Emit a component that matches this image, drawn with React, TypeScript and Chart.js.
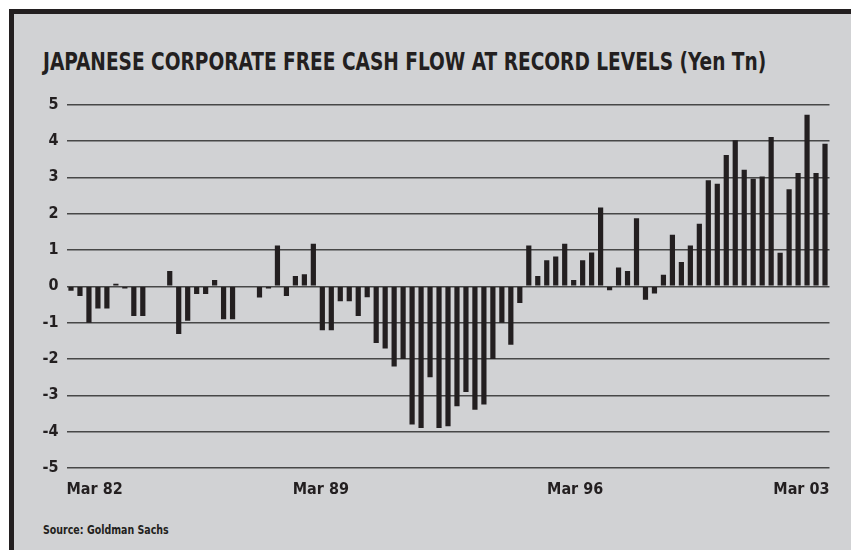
import React, { useEffect, useRef } from "react";
import { Chart, registerables } from "chart.js";

Chart.register(...registerables);

const START_YEAR = 1982;
const MONTHS = ["Mar", "Jun", "Sep", "Dec"];
const QUARTER_COUNT = 85;
const categories: string[] = [];
for (let i = 0; i < QUARTER_COUNT; i++) {
  const y = START_YEAR + Math.floor(i / 4);
  categories.push(MONTHS[i % 4] + " " + String(y).slice(2));
}

const freeCashFlow: number[] = [
  -0.12, -0.27, -1.0, -0.61, -0.61, 0.07, -0.06, -0.82, -0.82, 0.02,
  0.02, 0.42, -1.31, -0.95, -0.21, -0.21, 0.17, -0.91, -0.91, 0.02,
  0.02, -0.31, -0.06, 1.12, -0.27, 0.28, 0.33, 1.17, -1.21, -1.21,
  -0.41, -0.41, -0.82, -0.3, -1.56, -1.71, -2.21, -2.0, -3.8, -3.9,
  -2.5, -3.9, -3.85, -3.3, -2.91, -3.4, -3.25, -2.0, -1.0, -1.61,
  -0.46, 1.12, 0.28, 0.72, 0.82, 1.17, 0.17, 0.72, 0.93, 2.17,
  -0.11, 0.52, 0.42, 1.87, -0.37, -0.2, 0.32, 1.42, 0.67, 1.12,
  1.72, 2.92, 2.82, 3.61, 4.02, 3.21, 2.96, 3.02, 4.11, 0.92,
  2.67, 3.12, 4.72, 3.12, 3.92,
];

const xTickLabels: string[] = ["Mar 82", "Mar 89", "Mar 96", "Mar 03"];
const Y_MIN = -5;
const Y_MAX = 5;

const TITLE = "JAPANESE CORPORATE FREE CASH FLOW AT RECORD LEVELS (Yen Tn)";
const SOURCE = "Source: Goldman Sachs";

const FONT = '"DejaVu Sans Condensed", "Liberation Sans Narrow", sans-serif';
const INK = "#231f20";
const BG = "#d1d2d4";

export default function App() {
  const canvasRef = useRef<HTMLCanvasElement | null>(null);

  useEffect(() => {
    if (!canvasRef.current) return;
    const chart = new Chart(canvasRef.current, {
      type: "bar",
      data: {
        labels: categories,
        datasets: [
          {
            data: freeCashFlow,
            backgroundColor: INK,
            borderWidth: 0,
            barPercentage: 0.58,
            categoryPercentage: 1,
            xAxisID: "x",
          },
        ],
      },
      options: {
        animation: false,
        responsive: false,
        maintainAspectRatio: false,
        layout: { padding: { left: 0, right: 21.5, top: 0, bottom: 0 } },
        plugins: {
          legend: { display: false },
          tooltip: { enabled: false },
          title: { display: false },
        },
        scales: {
          x: {
            type: "category",
            display: false,
            offset: true,
            grid: { display: false },
          },
          x2: {
            type: "category",
            labels: xTickLabels,
            position: "bottom",
            offset: false,
            grid: { display: false, drawTicks: false },
            border: { display: false },
            ticks: {
              autoSkip: false,
              maxRotation: 0,
              minRotation: 0,
              align: "inner",
              padding: 12,
              color: INK,
              font: { family: FONT, size: 16, weight: "bold" },
            },
            afterFit: (scale: any) => {
              scale.height = 37;
            },
          },
          y: {
            min: Y_MIN,
            max: Y_MAX,
            border: { display: false },
            grid: {
              color: "#474747",
              lineWidth: 1.5,
              drawTicks: false,
            },
            ticks: {
              stepSize: 1,
              padding: 8,
              color: INK,
              font: { family: FONT, size: 16, weight: "bold" },
            },
            afterFit: (scale: any) => {
              scale.width = 52.5;
            },
          },
        },
      },
    } as any);
    return () => chart.destroy();
  }, []);

  return (
    <div
      style={{
        position: "fixed",
        left: 9,
        top: 9,
        right: 0,
        bottom: 0,
        background: BG,
        borderTop: `5px solid ${INK}`,
        borderLeft: `5px solid ${INK}`,
        boxSizing: "border-box",
        overflow: "hidden",
      }}
    >
      <div
        style={{
          position: "absolute",
          left: 29,
          top: 36,
          fontFamily: FONT,
          fontWeight: "bold",
          fontSize: 24,
          lineHeight: "24px",
          color: INK,
          whiteSpace: "nowrap",
          transform: "scaleX(0.86)",
          transformOrigin: "0 0",
        }}
      >
        {TITLE}
      </div>
      <canvas
        ref={canvasRef}
        width={837}
        height={418}
        style={{ position: "absolute", left: 0, top: 73, width: 837, height: 418 }}
      />
      <div
        style={{
          position: "absolute",
          left: 29,
          top: 508,
          fontFamily: FONT,
          fontWeight: "bold",
          fontSize: 13,
          lineHeight: "16px",
          color: INK,
          whiteSpace: "nowrap",
          transform: "scaleX(0.81)",
          transformOrigin: "0 0",
        }}
      >
        {SOURCE}
      </div>
    </div>
  );
}
